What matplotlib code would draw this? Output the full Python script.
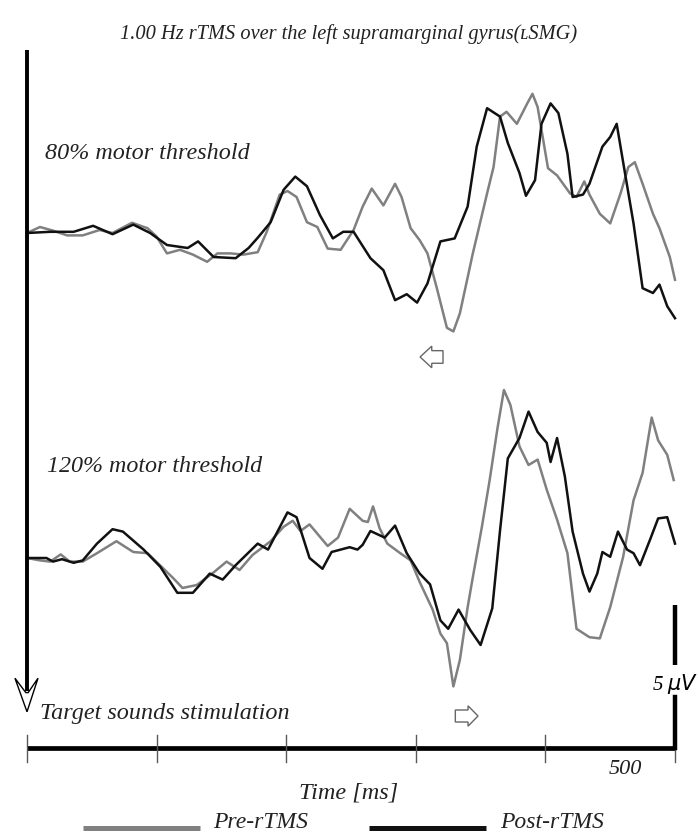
import matplotlib
matplotlib.use('Agg')
import matplotlib.pyplot as plt
import matplotlib.patches as mpatches

# ERP traces, time [ms] and amplitude [uV]
pre_80_t = [0, 10, 20, 31, 43, 56, 66, 81, 93, 100, 108, 118, 128, 139, 147, 157, 167, 178, 185, 195,
            201, 208, 216, 224, 232, 242, 252, 259, 266, 275, 284, 289, 296, 303, 309, 316, 324, 329, 334, 344,
            355, 360, 365, 370, 378, 386, 390, 394, 402, 409, 419, 424, 430, 434, 442, 450, 458, 464, 469, 475,
            483, 488, 496, 500]
pre_80_v = [0, 0.5, 0.2, -0.2, -0.2, 0.25, 0, 0.85, 0.4, -0.3, -1.7, -1.4, -1.8, -2.4, -1.7, -1.7, -1.8, -1.6, 0.1, 3.2,
            3.5, 3.0, 0.9, 0.5, -1.3, -1.4, 0.25, 2.2, 3.7, 2.3, 4.1, 3.0, 0.4, -0.6, -1.7, -4.5, -7.9, -8.2, -6.7, -1.7,
            3.3, 5.5, 9.7, 10.1, 9.1, 10.8, 11.6, 10.5, 5.4, 4.8, 3.3, 3.0, 4.3, 3.2, 1.6, 0.8, 3.3, 5.5, 5.9, 4.1,
            1.6, 0.4, -2.0, -3.9]

post_80_t = [0, 18, 36, 51, 66, 82, 95, 108, 124, 132, 144, 161, 171, 178, 188, 198, 207, 216, 226, 236,
             244, 252, 265, 275, 284, 293, 301, 309, 319, 330, 340, 347, 355, 365, 371, 380, 385, 392, 397, 404,
             410, 417, 421, 429, 434, 444, 450, 455, 461, 468, 475, 483, 488, 494, 500]
post_80_v = [0, 0.1, 0.1, 0.6, -0.1, 0.7, 0, -1.0, -1.25, -0.7, -2.0, -2.1, -1.25, -0.4, 0.9, 3.6, 4.7, 3.9, 1.5, -0.45,
             0.1, 0.1, -2.1, -3.1, -5.6, -5.1, -5.8, -4.2, -0.7, -0.45, 2.2, 7.2, 10.4, 9.7, 7.5, 5.0, 3.1, 4.4, 9.1, 10.8,
             10.0, 6.6, 3.0, 3.2, 4.1, 7.2, 8.0, 9.1, 5.25, 0.8, -4.6, -5.0, -4.3, -6.1, -7.1]

pre_120_t = [0, 10, 18, 26, 33, 43, 54, 69, 82, 93, 104, 113, 120, 131, 144, 154, 164, 174, 188, 198,
             205, 211, 218, 232, 240, 249, 259, 263, 267, 272, 278, 288, 296, 303, 313, 319, 324, 329, 334, 340,
             344, 351, 357, 363, 368, 373, 380, 387, 394, 401, 409, 417, 424, 434, 442, 450, 460, 468, 475, 482,
             487, 494, 499]
pre_120_v = [0, -0.2, -0.3, 0.3, -0.3, -0.3, 0.4, 1.4, 0.5, 0.4, -0.75, -1.7, -2.5, -2.25, -1.2, -0.3, -1.0, 0.25, 1.4, 2.6,
             3.1, 2.25, 2.8, 1.0, 1.7, 4.1, 3.1, 3.0, 4.3, 2.5, 1.2, 0.4, -0.2, -2.0, -4.3, -6.3, -7.1, -10.7, -8.5, -4.1,
             -1.6, 2.6, 6.5, 10.8, 14.0, 12.75, 9.3, 7.75, 8.2, 5.7, 3.2, 0.4, -5.9, -6.6, -6.7, -4.1, 0.1, 4.8, 7.1, 11.7,
             9.8, 8.6, 6.5]

post_120_t = [0, 15, 20, 27, 36, 43, 54, 66, 74, 90, 103, 116, 128, 141, 151, 161, 178, 186, 201, 208,
              218, 228, 235, 249, 255, 259, 265, 276, 284, 293, 303, 311, 319, 325, 333, 342, 350, 359, 365, 371,
              380, 387, 394, 401, 404, 409, 415, 421, 429, 434, 440, 444, 450, 456, 463, 468, 473, 481, 487, 494,
              500]
post_120_v = [0, 0, -0.3, -0.1, -0.4, -0.2, 1.2, 2.4, 2.2, 0.7, -0.75, -2.9, -2.9, -1.3, -1.8, -0.6, 1.2, 0.7, 3.8, 3.4,
              0, -0.9, 0.5, 0.9, 0.7, 1.1, 2.25, 1.7, 2.7, 0.4, -1.3, -2.2, -5.2, -5.9, -4.3, -6.0, -7.25, -4.2, 2.3, 8.3,
              10.0, 12.2, 10.5, 9.6, 8.0, 10.0, 6.8, 2.2, -1.3, -2.8, -1.3, 0.5, 0.1, 2.2, 0.7, 0.4, -0.6, 1.6, 3.3, 3.4,
              1.2]

time_ticks = [0, 100, 200, 300, 400, 500]
scale_uv = 5

# layout (ms / uV)
PX_MS = 1.296
PX_UV = 12.0
LOWER = -325 / PX_UV       # baseline of the 120% traces
AXIS_Y = -515 / PX_UV      # time axis
PRE_COLOR = '#808080'
POST_COLOR = '#111111'
FONT = ['Liberation Serif', 'DejaVu Serif']

fig = plt.figure(figsize=(6.98, 8.36), dpi=100)
ax = fig.add_axes([0, 0, 1, 1])
ax.set_xlim(-27 / PX_MS, (698 - 27) / PX_MS)
ax.set_ylim(-603 / PX_UV, 233 / PX_UV)
ax.axis('off')

ax.plot(pre_80_t, pre_80_v, color=PRE_COLOR, lw=1.8, solid_joinstyle='round')
ax.plot(post_80_t, post_80_v, color=POST_COLOR, lw=1.8, solid_joinstyle='round')
ax.plot(pre_120_t, [v + LOWER for v in pre_120_v], color=PRE_COLOR, lw=1.8, solid_joinstyle='round')
ax.plot(post_120_t, [v + LOWER for v in post_120_v], color=POST_COLOR, lw=1.8, solid_joinstyle='round')

# stimulus onset line with open arrow head
ax.plot([0, 0], [15.25, -38.2], color='black', lw=2.8, solid_capstyle='butt')
head = mpatches.Polygon([(-9.3, -37.1), (0, -39.9), (8.5, -37.1), (0.9, -38.3), (-0.9, -38.3)],
                        closed=True, fc='white', ec='black', lw=1.0)
ax.add_patch(head)

# time axis
ax.plot([0, 500], [AXIS_Y, AXIS_Y], color='black', lw=3.4, solid_capstyle='butt')
for t in time_ticks:
    ax.plot([t, t], [AXIS_Y + 1.1, AXIS_Y - 1.15], color='0.35', lw=1.0)
ax.plot([500, 500], [AXIS_Y + 4.25, AXIS_Y], color='black', lw=3.2, solid_capstyle='projecting')

# 5 uV scale bar
ax.plot([500, 500], [-31.0, -31.0 - scale_uv], color='black', lw=3.2, solid_capstyle='butt')
ax.text(500, -37.6, r'5 $\mu V$', ha='center', va='center', fontsize=15, style='italic', family=FONT)

# hollow arrows marking the effect
ax.add_patch(mpatches.FancyArrow(321, -10.33, -17.7, 0, width=1.05, head_width=1.8, head_length=9,
                                 length_includes_head=True, fc='white', ec='0.4', lw=1.0))
ax.add_patch(mpatches.FancyArrow(330.5, -40.25, 17.5, 0, width=1.0, head_width=1.7, head_length=7.7,
                                 length_includes_head=True, fc='white', ec='0.4', lw=1.0))

txt = dict(style='italic', family=FONT, color='#222222')
ax.text(248.5, 16.6, '1.00 Hz rTMS over the left supramarginal gyrus(ʟSMG)', ha='center', va='center',
        fontsize=14.7, **txt)
ax.text(14, 6.6, '80% motor threshold', ha='left', va='center', fontsize=17.4, **txt)
ax.text(15.5, -19.45, '120% motor threshold', ha='left', va='center', fontsize=17.3, **txt)
ax.text(10, -40.0, 'Target sounds stimulation', ha='left', va='center', fontsize=17.4, **txt)
ax.text(461.5, -44.7, str(time_ticks[-1]), ha='center', va='center', fontsize=16, **txt)
ax.text(248.5, -46.7, 'Time [ms]', ha='center', va='center', fontsize=17.5, **txt)

# legend
ax.plot([43, 133.5], [-49.6, -49.6], color=PRE_COLOR, lw=3.6, solid_capstyle='butt')
ax.text(143.5, -49.1, 'Pre-rTMS', ha='left', va='center', fontsize=17, **txt)
ax.plot([264, 354.5], [-49.6, -49.6], color=POST_COLOR, lw=3.6, solid_capstyle='butt')
ax.text(365, -49.1, 'Post-rTMS', ha='left', va='center', fontsize=17, **txt)

fig.savefig('out.png', dpi=100)
